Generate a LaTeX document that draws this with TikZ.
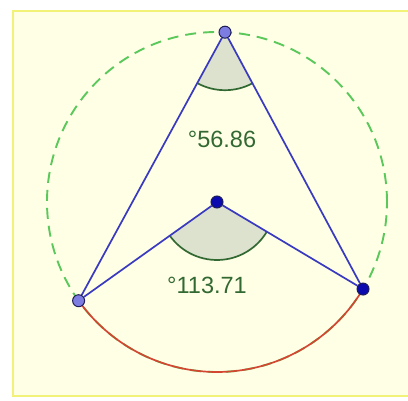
\documentclass[tikz,border=0pt]{standalone}
\usepackage{fontspec}
\setmainfont{Liberation Sans}
\usetikzlibrary{angles,backgrounds}
\definecolor{ggblue}{RGB}{58,58,192}
\definecolor{ggred}{RGB}{210,70,50}
\definecolor{ggcircle}{RGB}{90,200,90}
\definecolor{anggreen}{RGB}{50,105,50}
\definecolor{angfill}{RGB}{220,226,205}
\definecolor{ptlight}{RGB}{125,125,225}
\definecolor{ptdark}{RGB}{10,10,175}
\definecolor{ptedge}{RGB}{30,30,90}
\definecolor{paper}{RGB}{255,255,230}
\definecolor{paperedge}{RGB}{242,242,120}
\newcommand{\rad}{170}
\tikzset{
  lightpt/.style={circle,draw=ptedge,fill=ptlight,line width=1pt,inner sep=0pt,minimum size=12pt},
  darkpt/.style={circle,draw=ptedge,fill=ptdark,line width=1pt,inner sep=0pt,minimum size=12pt},
  seg/.style={ggblue,line width=1.7pt},
  angmark/.style={draw=anggreen,fill=angfill,line width=1.7pt,angle radius=58pt},
  anglabel/.style={text=anggreen,font=\fontsize{23.5}{28}\selectfont}
}
\begin{document}
\begin{tikzpicture}[x=1pt,y=1pt]
    \useasboundingbox (0,0) rectangle (408,400);
    % points
    \node[darkpt] (O) at (217,198) {};
    \node[lightpt] (A) at ([shift={(87.3:\rad)}]O.center) {};
    \node[lightpt] (B) at ([shift={(215.5:\rad)}]O.center) {};
    \node[darkpt] (C) at ([shift={(329.2:\rad)}]O.center) {};
    \node[anglabel] (topval) at (222,261) {°56.86};
    \node[anglabel] (midval) at (207,115) {°113.71};
    \begin{scope}[on background layer]
        \fill[white] (0,0) rectangle (408,400);
        \draw[paperedge,fill=paper,line width=2pt] (13,4) rectangle (412,389);
        \draw[ggcircle,line width=1.9pt,dash pattern=on 11pt off 7pt] (O.center) circle (\rad);
        \draw[ggred,line width=1.7pt] (B.center) arc[start angle=215.5,end angle=329.2,radius=\rad];
        \pic[angmark] {angle=B--A--C};
        \pic[angmark] {angle=B--O--C};
        \draw[seg] (A) -- (B);
        \draw[seg] (A) -- (C);
        \draw[seg] (O) -- (B);
        \draw[seg] (O) -- (C);
    \end{scope}
\end{tikzpicture}
\end{document}
